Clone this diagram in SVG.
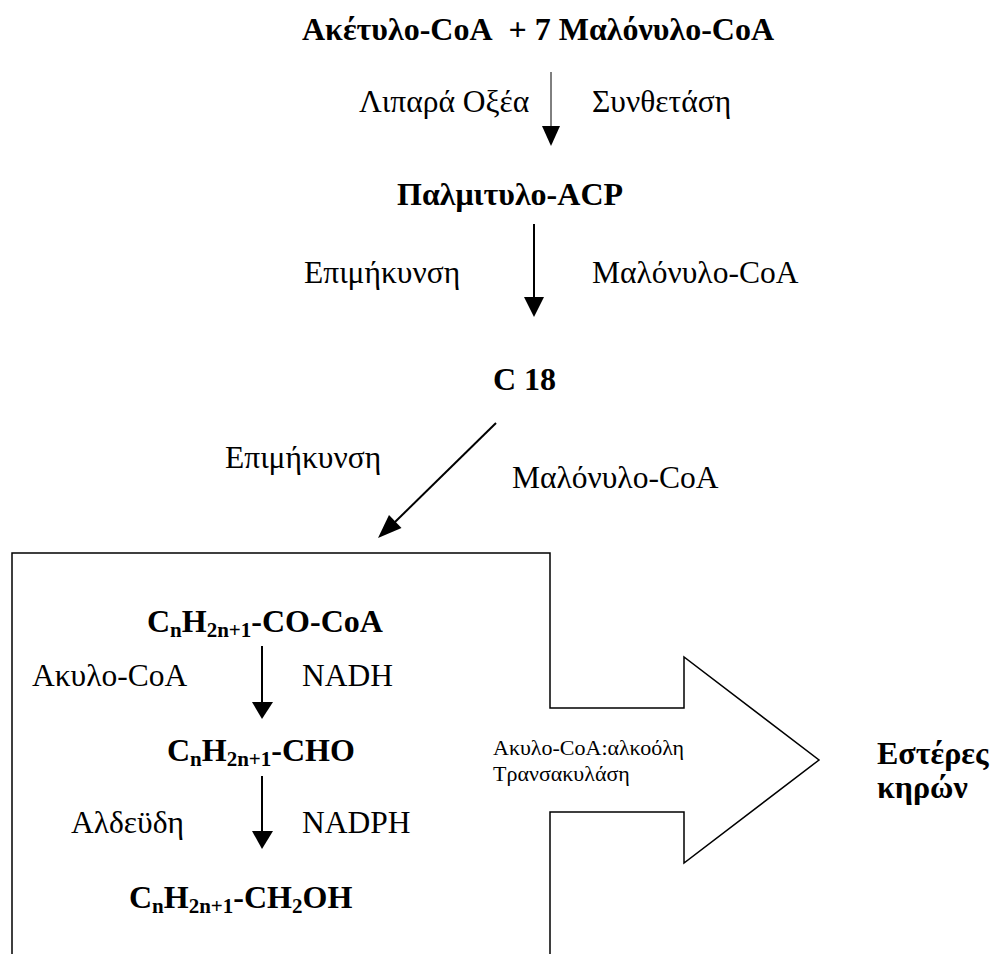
<svg xmlns="http://www.w3.org/2000/svg" width="992" height="954" viewBox="0 0 992 954">
<style>
text{font-family:"Liberation Serif","Times New Roman",serif;fill:#000}
.b{font-weight:bold;font-size:32px}
.r{font-size:31.5px}
.s{font-size:22px}
.sub{font-size:21px}
.ln{stroke:#000;fill:none}
.hd{fill:#000;stroke:none}
</style>
<rect width="992" height="954" fill="#fff"/>
<g id="n-start"><text class="b" x="302" y="40">Ακέτυλο-CoA&#160; + 7 Μαλόνυλο-CoA</text></g>
<g id="n-palm"><text class="b" x="397" y="205">Παλμιτυλο-ACP</text></g>
<g id="n-c18"><text class="b" x="493" y="390">C 18</text></g>
<g id="n-box">
<path class="ln" stroke-width="1.5" d="M12,954 V553 H550 V708 H684 V657 L819,760 L684,863 V812 H550 V954"/>
</g>
<g id="n-coa"><text class="b" x="147" y="632">C<tspan class="sub" dy="5">n</tspan><tspan dy="-5">H</tspan><tspan class="sub" dy="5">2n+1</tspan><tspan dy="-5">-CO-CoA</tspan></text></g>
<g id="n-cho"><text class="b" x="167" y="761">C<tspan class="sub" dy="5">n</tspan><tspan dy="-5">H</tspan><tspan class="sub" dy="5">2n+1</tspan><tspan dy="-5">-CHO</tspan></text></g>
<g id="n-oh"><text class="b" x="129" y="908">C<tspan class="sub" dy="5">n</tspan><tspan dy="-5">H</tspan><tspan class="sub" dy="5">2n+1</tspan><tspan dy="-5">-CH</tspan><tspan class="sub" dy="5">2</tspan><tspan dy="-5">OH</tspan></text></g>
<g id="n-wax"><text class="b" x="877" y="764">Εστέρες</text><text class="b" x="877" y="798">κηρών</text></g>
<g id="labels">
<text class="r" x="359" y="112">Λιπαρά Οξέα</text>
<text class="r" x="592" y="112">Συνθετάση</text>
<text class="r" x="304" y="283">Επιμήκυνση</text>
<text class="r" x="592" y="283">Μαλόνυλο-CoA</text>
<text class="r" x="225" y="468">Επιμήκυνση</text>
<text class="r" x="512" y="488">Μαλόνυλο-CoA</text>
<text class="r" x="32" y="686">Ακυλο-CoA</text>
<text class="r" x="302" y="686">NADH</text>
<text class="r" x="71" y="833">Αλδεϋδη</text>
<text class="r" x="302" y="833">NADPH</text>
<text class="s" x="493" y="755">Ακυλο-CoA:αλκοόλη</text>
<text class="s" x="493" y="781">Τρανσακυλάση</text>
</g>
<g id="connectors">
<line class="ln" stroke-width="1" x1="551" y1="72" x2="551" y2="127"/>
<polygon class="hd" points="542,126 560,126 551,146"/>
<line class="ln" stroke-width="2" x1="534" y1="224" x2="534" y2="299"/>
<polygon class="hd" points="524,297 544,297 534,317"/>
<line class="ln" stroke-width="2" x1="496" y1="423" x2="395" y2="522"/>
<polygon class="hd" points="378,538 389,515 401.5,528"/>
<line class="ln" stroke-width="2" x1="262" y1="646" x2="262" y2="704"/>
<polygon class="hd" points="252,702 273,702 262,719"/>
<line class="ln" stroke-width="2" x1="262" y1="776" x2="262" y2="833"/>
<polygon class="hd" points="252,831 273,831 262,849"/>
</g>
</svg>
